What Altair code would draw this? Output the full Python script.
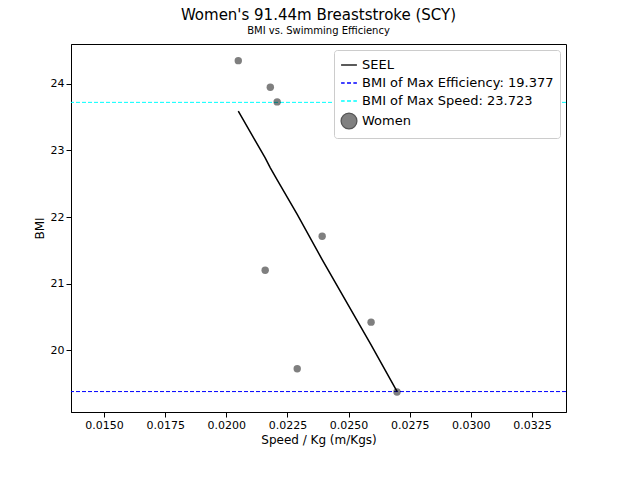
import altair as alt
import pandas as pd

speed = [0.02049, 0.0218, 0.02208, 0.02392, 0.02159, 0.02592, 0.0229, 0.02698]
bmi = [24.35, 23.95, 23.73, 21.71, 21.2, 20.42, 19.72, 19.37]
fit = [23.59, 22.74, 22.56, 21.36, 22.89, 20.08, 22.04, 19.38]
max_eff = 19.377
max_speed = 23.723
series = ["SEEL", "BMI of Max Efficiency: 19.377", "BMI of Max Speed: 23.723", "Women"]

df = pd.DataFrame({"x": speed, "y": bmi, "fit": fit})
leg = pd.DataFrame({"s": series})

xs = alt.Scale(domain=[0.01365, 0.03389], nice=False, zero=False)
ys = alt.Scale(domain=[19.07, 24.6], nice=False, zero=False)
X = alt.X("x:Q", scale=xs, title="Speed / Kg (m/Kgs)", axis=alt.Axis(format=".4f", values=[0.015,0.0175,0.02,0.0225,0.025,0.0275,0.03,0.0325], grid=False))
Y = alt.Y("y:Q", scale=ys, title="BMI", axis=alt.Axis(format=".0f", values=[20,21,22,23,24], grid=False))

pts = alt.Chart(df).mark_circle(size=55, color="black", opacity=0.5).encode(x=X, y=Y)
line = alt.Chart(df).mark_line(color="black", strokeWidth=1.5).encode(x="x:Q", y=alt.Y("fit:Q", scale=ys), order="x:Q")
r1 = alt.Chart(pd.DataFrame({"v": [max_eff]})).mark_rule(color="blue", strokeDash=[4, 2], strokeWidth=1).encode(y=alt.Y("v:Q", scale=ys))
r2 = alt.Chart(pd.DataFrame({"v": [max_speed]})).mark_rule(color="cyan", strokeDash=[4, 2], strokeWidth=1).encode(y=alt.Y("v:Q", scale=ys))

shapes = ["M-1,0H1", "M-1,0H-0.55M-0.25,0H0.25M0.55,0H1", "M-1,0H-0.55M-0.25,0H0.25M0.55,0H1", "circle"]
dummy = alt.Chart(leg).mark_point(size=0, filled=False, opacity=0).encode(
    x=alt.value(10), y=alt.value(10),
    color=alt.Color("s:N", scale=alt.Scale(domain=series, range=["black", "blue", "cyan", "#555555"]),
                    legend=alt.Legend(title=None, orient="top-right", labelFontSize=13, symbolSize=250, labelLimit=400,
                                      symbolStrokeWidth=1.3, symbolOpacity=1, padding=6, strokeColor="#cccccc",
                                      fillColor="white", cornerRadius=3, labelFont="DejaVu Sans", offset=6)),
    shape=alt.Shape("s:N", scale=alt.Scale(domain=series, range=shapes), legend=alt.Legend(title=None)),
    fill=alt.Fill("s:N", scale=alt.Scale(domain=series, range=["transparent", "transparent", "transparent", "#808080"]), legend=alt.Legend(title=None)),
)

chart = alt.layer(r1, r2, line, pts, dummy).properties(
    width=495, height=368,
    title=alt.TitleParams("Women's 91.44m Breaststroke (SCY)", subtitle="BMI vs. Swimming Efficiency",
                          fontSize=15, fontWeight="normal", subtitleFontSize=10, font="DejaVu Sans", subtitleFont="DejaVu Sans", anchor="middle", offset=8),
    padding={"left": 25, "top": 0, "right": 56, "bottom": 5},
).configure_axis(labelFont="DejaVu Sans", titleFont="DejaVu Sans", labelFontSize=11, titleFontSize=12,
                 titleFontWeight="normal", domainColor="black", tickColor="black", labelColor="black"
).configure_view(stroke="black")

chart.save("out.html", embed_options={"renderer": "svg", "actions": False})
